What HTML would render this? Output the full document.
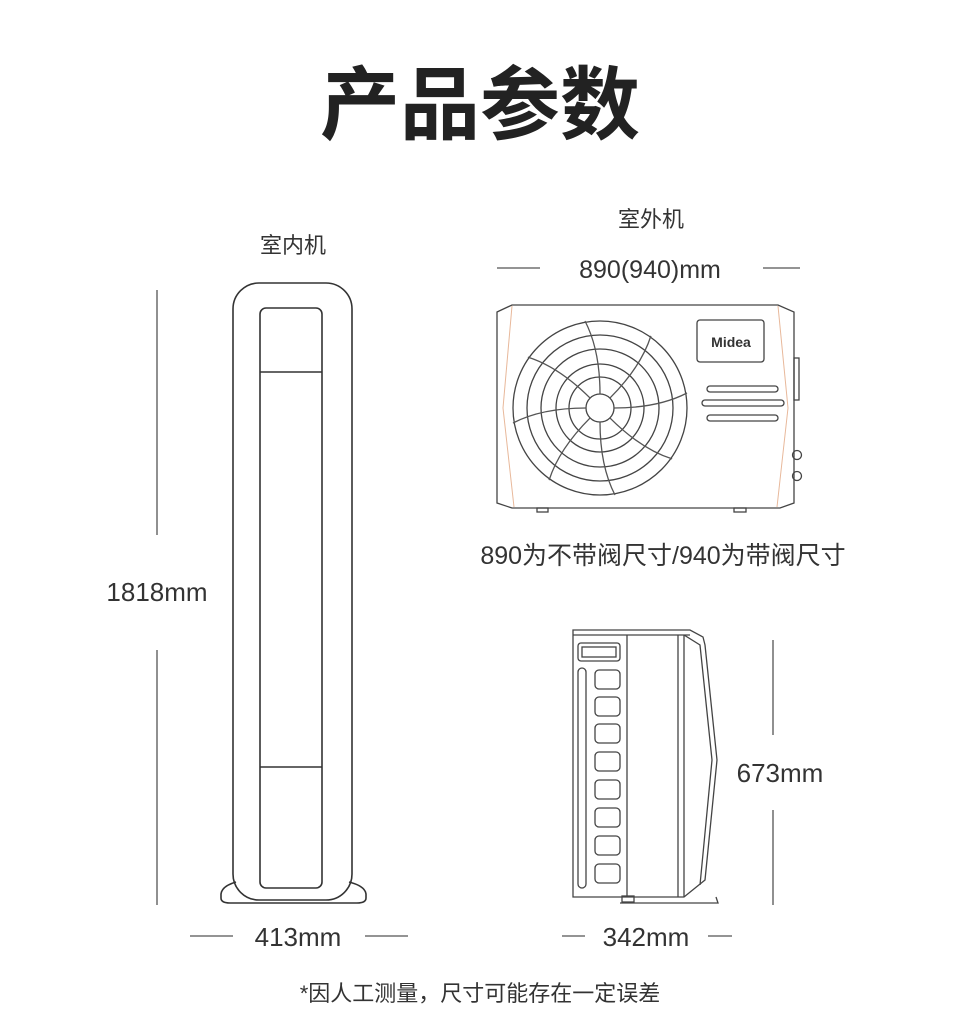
<!DOCTYPE html>
<html><head><meta charset="utf-8"><style>
html,body{margin:0;padding:0;background:#fff;}
svg{display:block;}
text{font-family:"Liberation Sans","Noto Sans CJK SC",sans-serif;fill:#333;}
</style></head><body>
<svg width="960" height="1016" viewBox="0 0 960 1016" xmlns="http://www.w3.org/2000/svg">
<text x="480" y="133" font-size="80" font-weight="bold" text-anchor="middle" fill="#222" style="fill:#222">产品参数</text>

<!-- indoor -->
<text x="293" y="253" font-size="22" text-anchor="middle">室内机</text>
<g fill="none" stroke="#333" stroke-width="1.6">
<rect x="233" y="283" width="119" height="617" rx="26"/>
<rect x="260" y="308" width="62" height="580" rx="6"/>
<line x1="260" y1="372" x2="322" y2="372"/>
<line x1="260" y1="767" x2="322" y2="767"/>
<path d="M236 882 Q222 886 221 894 L221 898 Q221 903 230 903 L357 903 Q366 903 366 898 L366 894 Q365 886 349 882"/>
</g>
<g stroke="#555" stroke-width="1.3">
<line x1="157" y1="290" x2="157" y2="535"/>
<line x1="157" y1="650" x2="157" y2="905"/>
<line x1="190" y1="936" x2="233" y2="936"/>
<line x1="365" y1="936" x2="408" y2="936"/>
</g>
<text x="157" y="601" font-size="26" text-anchor="middle">1818mm</text>
<text x="298" y="946" font-size="26" text-anchor="middle">413mm</text>

<!-- outdoor front -->
<text x="651" y="227" font-size="22" text-anchor="middle">室外机</text>
<text x="650" y="278" font-size="25" text-anchor="middle">890(940)mm</text>
<g stroke="#555" stroke-width="1.3">
<line x1="497" y1="268" x2="540" y2="268"/>
<line x1="763" y1="268" x2="800" y2="268"/>
</g>
<g fill="none" stroke="#444" stroke-width="1.3">
<path d="M497 312 L512 305 L778 305 L794 312 L794 503 L780 508 L512 508 L497 503 Z"/>
<rect x="537" y="508" width="11" height="4"/>
<rect x="734" y="508" width="12" height="4"/>
<rect x="794" y="358" width="5" height="42"/>
<circle cx="797" cy="455" r="4.5"/>
<circle cx="797" cy="476" r="4.5"/>
<rect x="697" y="320" width="67" height="42" rx="3"/>
<rect x="707" y="386" width="71" height="6" rx="3"/>
<rect x="702" y="400" width="82" height="6" rx="3"/>
<rect x="707" y="415" width="71" height="6" rx="3"/>
<circle cx="600" cy="408" r="87"/>
<circle cx="600" cy="408" r="73"/>
<circle cx="600" cy="408" r="59"/>
<circle cx="600" cy="408" r="44"/>
<circle cx="600" cy="408" r="31"/>
<circle cx="600" cy="408" r="14"/>
<g stroke="#555">
<path id="bl" d="M600 394 Q600 350 585 321"/>
<use href="#bl" transform="rotate(45 600 408)"/>
<use href="#bl" transform="rotate(90 600 408)"/>
<use href="#bl" transform="rotate(135 600 408)"/>
<use href="#bl" transform="rotate(180 600 408)"/>
<use href="#bl" transform="rotate(225 600 408)"/>
<use href="#bl" transform="rotate(270 600 408)"/>
<use href="#bl" transform="rotate(315 600 408)"/>
</g>
</g>
<g stroke="#e8b89a" stroke-width="1" fill="none">
<line x1="512" y1="306" x2="503" y2="408"/><line x1="503" y1="408" x2="514" y2="507"/>
<line x1="778" y1="306" x2="788" y2="408"/><line x1="788" y1="408" x2="777" y2="507"/>
</g>
<text x="731" y="347" font-size="14" font-weight="bold" text-anchor="middle">Midea</text>

<text x="663" y="564" font-size="25" text-anchor="middle">890为不带阀尺寸/940为带阀尺寸</text>

<!-- outdoor side -->
<g fill="none" stroke="#444" stroke-width="1.3">
<path d="M573 630 L690 630 L703 637 L705 645 L717 760 L705 880 L684 897 L573 897 Z"/>
<line x1="627" y1="635" x2="627" y2="897"/>
<line x1="678" y1="635" x2="678" y2="897"/>
<line x1="684" y1="635" x2="684" y2="897"/>
<path d="M684 635 L700 645 L712 760 L700 885"/>
<line x1="573" y1="635" x2="690" y2="635"/>
<rect x="578" y="643" width="42" height="18" rx="3"/>
<rect x="582" y="647" width="34" height="10"/>
<rect x="578" y="668" width="8" height="220" rx="4"/>
<rect x="595" y="670" width="25" height="19" rx="4"/>
<rect x="595" y="697" width="25" height="19" rx="4"/>
<rect x="595" y="724" width="25" height="19" rx="4"/>
<rect x="595" y="752" width="25" height="19" rx="4"/>
<rect x="595" y="780" width="25" height="19" rx="4"/>
<rect x="595" y="808" width="25" height="19" rx="4"/>
<rect x="595" y="836" width="25" height="19" rx="4"/>
<rect x="595" y="864" width="25" height="19" rx="4"/>
<path d="M620 903 L718 903 L716 897"/>
<rect x="622" y="896" width="12" height="6"/>
</g>
<g stroke="#555" stroke-width="1.3">
<line x1="773" y1="640" x2="773" y2="735"/>
<line x1="773" y1="810" x2="773" y2="905"/>
<line x1="562" y1="936" x2="585" y2="936"/>
<line x1="708" y1="936" x2="732" y2="936"/>
</g>
<text x="780" y="782" font-size="26" text-anchor="middle">673mm</text>
<text x="646" y="946" font-size="26" text-anchor="middle">342mm</text>

<text x="480" y="1001" font-size="22" text-anchor="middle">*因人工测量，尺寸可能存在一定误差</text>
</svg>
</body></html>
